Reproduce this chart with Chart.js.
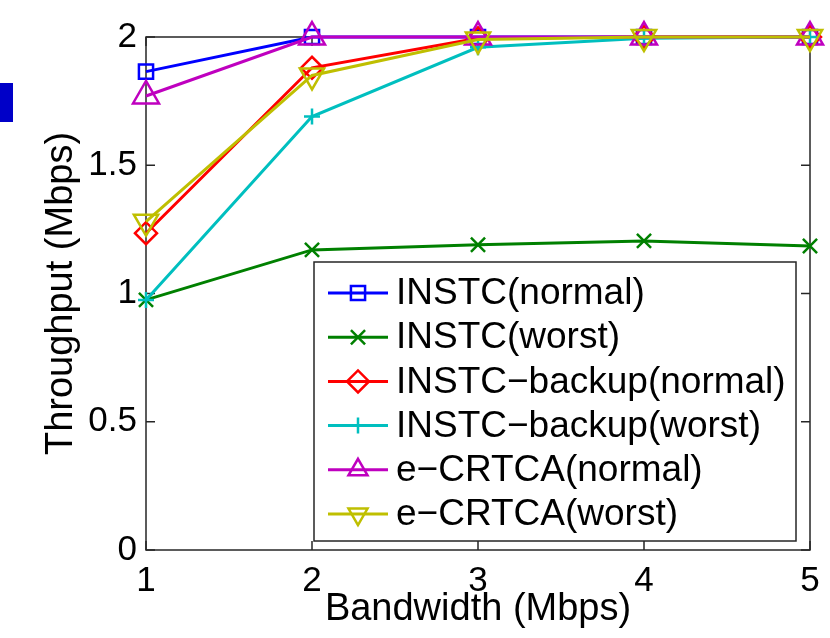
<!DOCTYPE html>
<html>
<head>
<meta charset="utf-8">
<script src="https://cdn.jsdelivr.net/npm/chart.js@4/dist/chart.umd.min.js"></script>
<style>
  html, body { margin: 0; padding: 0; background: #fff; }
  #wrap { width: 830px; height: 638px; }
</style>
</head>
<body>
<div id="wrap"><canvas id="thr" width="830" height="638"></canvas></div>
<script>
// values
const bandwidth = [1, 2, 3, 4, 5];
const instcNormal = [1.865, 2, 2, 2, 2];
const instcWorst = [0.975, 1.17, 1.19, 1.205, 1.185];
const backupNormal = [1.235, 1.88, 1.995, 2, 2];
const backupWorst = [0.975, 1.69, 1.96, 1.995, 2];
const crtcaNormal = [1.77, 2, 2, 2, 2];
const crtcaWorst = [1.28, 1.85, 1.99, 2, 2];
const yTicks = [0, 0.5, 1, 1.5, 2];

const FONT = "'Liberation Sans', Arial, Helvetica, sans-serif";

function series(label, vals, color, style, radius, rotation) {
  return {
    label,
    data: vals.map((v, i) => ({ x: bandwidth[i], y: v })),
    borderColor: color,
    borderWidth: 3,
    pointStyle: style,
    pointRadius: radius,
    pointRotation: rotation || 0,
    pointBorderColor: color,
    pointBackgroundColor: "rgba(0,0,0,0)",
    pointBorderWidth: 2.5,
    tension: 0,
    clip: false
  };
}

const datasets = [
  series("INSTC(normal)", instcNormal, "#0000ff", "rect", 10),
  series("INSTC(worst)", instcWorst, "#008000", "crossRot", 10),
  series("INSTC\u2212backup(normal)", backupNormal, "#ff0000", "rectRot", 11),
  series("INSTC\u2212backup(worst)", backupWorst, "#00bfbf", "cross", 8),
  series("e\u2212CRTCA(normal)", crtcaNormal, "#bf00bf", "triangle", 15),
  series("e\u2212CRTCA(worst)", crtcaWorst, "#bfbf00", "triangle", 14, 180)
];
// later series drawn on top, like the original
datasets.forEach((d, i) => { d.order = datasets.length - 1 - i; });

// box + inward ticks on all four sides
const frame = {
  id: "frame",
  beforeDraw(chart) {
    const ctx = chart.ctx;
    ctx.save();
    ctx.fillStyle = "#0000c8";
    ctx.fillRect(0, 83, 13, 39);
    ctx.restore();
  },
  beforeDatasetsDraw(chart) {
    const { ctx, chartArea: a, scales: { x, y } } = chart;
    ctx.save();
    ctx.strokeStyle = "#262626";
    ctx.lineWidth = 1.5;
    ctx.strokeRect(a.left, a.top, a.right - a.left, a.bottom - a.top);
    ctx.beginPath();
    bandwidth.forEach(v => {
      const px = x.getPixelForValue(v);
      ctx.moveTo(px, a.bottom); ctx.lineTo(px, a.bottom - 9);
      ctx.moveTo(px, a.top); ctx.lineTo(px, a.top + 9);
    });
    yTicks.forEach(v => {
      const py = y.getPixelForValue(v);
      ctx.moveTo(a.left, py); ctx.lineTo(a.left + 9, py);
      ctx.moveTo(a.right, py); ctx.lineTo(a.right - 9, py);
    });
    ctx.stroke();
    ctx.restore();
  }
};

// legend box inside the plot, lower right
const boxLegend = {
  id: "boxLegend",
  afterDraw(chart) {
    const { ctx, chartArea: a } = chart;
    const right = a.right - 14, bottom = a.bottom - 9;
    const w = 482, h = 279;
    const left = right - w, top = bottom - h;
    ctx.save();
    ctx.fillStyle = "#fff";
    ctx.fillRect(left, top, w, h);
    ctx.strokeStyle = "#262626";
    ctx.lineWidth = 1.5;
    ctx.strokeRect(left, top, w, h);
    ctx.font = "37px " + FONT;
    ctx.textBaseline = "middle";
    chart.data.datasets.forEach((d, i) => {
      const cy = top + 31 + i * 44.2;
      ctx.strokeStyle = d.borderColor;
      ctx.lineWidth = 3;
      ctx.beginPath();
      ctx.moveTo(left + 14, cy);
      ctx.lineTo(left + 74, cy);
      ctx.stroke();
      ctx.lineWidth = 2.5;
      ctx.fillStyle = "rgba(0,0,0,0)";
      Chart.helpers.drawPoint(ctx, {
        pointStyle: d.pointStyle,
        rotation: d.pointRotation,
        radius: Math.min(d.pointRadius, 11),
        borderWidth: 2.5
      }, left + 44, cy);
      ctx.fillStyle = "#000";
      ctx.fillText(d.label, left + 82, cy + 1);
    });
    ctx.restore();
  }
};

new Chart(document.getElementById("thr"), {
  type: "line",
  data: { datasets },
  options: {
    responsive: false,
    devicePixelRatio: 1,
    animation: false,
    layout: { padding: { top: 37, right: 20, left: 0, bottom: 0 } },
    plugins: { legend: { display: false }, tooltip: { enabled: false } },
    scales: {
      x: {
        type: "linear",
        min: 1,
        max: 5,
        grid: { display: false, drawTicks: false },
        border: { display: false },
        ticks: { stepSize: 1, padding: 10, color: "#000", font: { size: 35, family: FONT } },
        title: {
          display: true,
          text: "Bandwidth (Mbps)",
          color: "#000",
          font: { size: 38, family: FONT },
          padding: { top: 0, bottom: 6 }
        },
        afterFit(s) { s.height = 88; }
      },
      y: {
        min: 0,
        max: 2,
        grid: { display: false, drawTicks: false },
        border: { display: false },
        ticks: {
          stepSize: 0.5,
          padding: 9,
          color: "#000",
          font: { size: 35, family: FONT },
          callback: v => String(v)
        },
        title: {
          display: true,
          text: "Throughput (Mbps)",
          color: "#000",
          font: { size: 38, family: FONT },
          padding: { top: 39, bottom: 0 }
        },
        afterFit(s) { s.width = 146; }
      }
    }
  },
  plugins: [frame, boxLegend]
});
</script>
</body>
</html>
